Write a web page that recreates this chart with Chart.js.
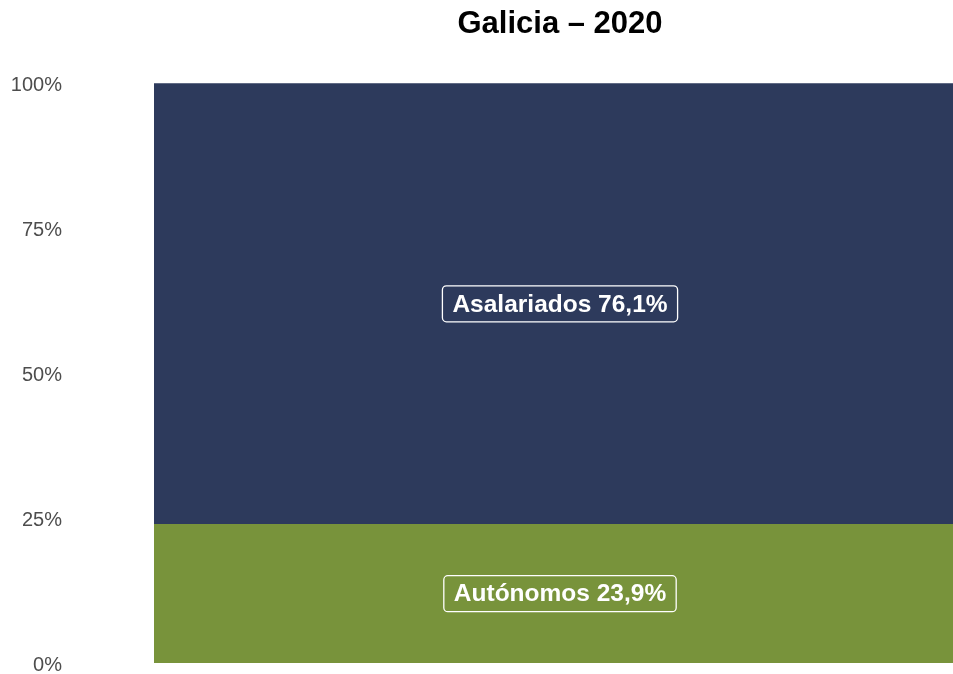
<!DOCTYPE html>
<html>
<head>
<meta charset="utf-8">
<script src="https://cdn.jsdelivr.net/npm/chart.js@4/dist/chart.umd.min.js"></script>
<style>
html,body{margin:0;padding:0;background:#fff;overflow:hidden;}
#wrap{width:953px;height:674px;position:relative;overflow:hidden;}
canvas{display:block;}
</style>
</head>
<body>
<div id="wrap"><canvas id="c" width="966" height="674" style="width:966px;height:674px;"></canvas></div>
<script>
const titleText = "Galicia – 2020";
const categories = ["Galicia"];
const seriesNames = ["Autónomos", "Asalariados"];
const autonomos = [23.9];
const asalariados = [76.1];
const labelTexts = ["Autónomos 23,9%", "Asalariados 76,1%"];
const yTicks = [0, 25, 50, 75, 100];
const colors = ["#78933b", "#2d3a5c"];

const labelPlugin = {
  id: 'boxLabels',
  afterDatasetsDraw(chart) {
    const ctx = chart.ctx;
    ctx.save();
    ctx.font = "bold 24.5px 'Liberation Sans', Arial, sans-serif";
    ctx.textAlign = 'center';
    ctx.textBaseline = 'middle';
    chart.data.datasets.forEach((ds, i) => {
      const meta = chart.getDatasetMeta(i);
      meta.data.forEach((el) => {
        const cx = el.x;
        const cy = (el.y + el.base) / 2;
        const text = labelTexts[i];
        const w = ctx.measureText(text).width + 20;
        const h = 36;
        const x0 = cx - w / 2, y0 = cy - h / 2, r = 4;
        ctx.beginPath();
        ctx.moveTo(x0 + r, y0);
        ctx.arcTo(x0 + w, y0, x0 + w, y0 + h, r);
        ctx.arcTo(x0 + w, y0 + h, x0, y0 + h, r);
        ctx.arcTo(x0, y0 + h, x0, y0, r);
        ctx.arcTo(x0, y0, x0 + w, y0, r);
        ctx.closePath();
        ctx.fillStyle = ds.backgroundColor;
        ctx.fill();
        ctx.lineWidth = 1.3;
        ctx.strokeStyle = '#ffffff';
        ctx.stroke();
        ctx.fillStyle = '#ffffff';
        ctx.fillText(text, cx, cy + 1);
      });
    });
    ctx.restore();
  }
};

new Chart(document.getElementById('c'), {
  type: 'bar',
  data: {
    labels: categories,
    datasets: [
      { label: seriesNames[0], data: autonomos, backgroundColor: colors[0], borderWidth: 0, barPercentage: 1, categoryPercentage: 1 },
      { label: seriesNames[1], data: asalariados, backgroundColor: colors[1], borderWidth: 0, barPercentage: 1, categoryPercentage: 1 }
    ]
  },
  options: {
    responsive: false,
    maintainAspectRatio: false,
    animation: false,
    layout: { padding: { left: 0, right: 0, top: 0, bottom: 11 } },
    plugins: {
      legend: { display: false },
      tooltip: { enabled: false },
      title: {
        display: true,
        text: titleText,
        fullSize: false,
        color: '#000000',
        font: { family: "'Liberation Sans', Arial, sans-serif", size: 31, weight: 'bold', lineHeight: 1.2 },
        padding: { top: 6, bottom: 40 }
      }
    },
    scales: {
      x: {
        stacked: true,
        display: false
      },
      y: {
        stacked: true,
        min: 0,
        max: 100,
        afterBuildTicks(scale) { scale.ticks = yTicks.map(v => ({ value: v })); },
        afterFit(scale) {
          scale.width = 154;
          scale.paddingTop = 0;
          scale.paddingBottom = 0;
        },
        grid: { display: false, drawTicks: false },
        border: { display: false },
        ticks: {
          padding: 92,
          labelOffset: 2,
          color: '#4d4d4d',
          font: { family: "'Liberation Sans', Arial, sans-serif", size: 20 },
          callback: (v) => v + '%'
        }
      }
    }
  },
  plugins: [labelPlugin]
});
</script>
</body>
</html>
